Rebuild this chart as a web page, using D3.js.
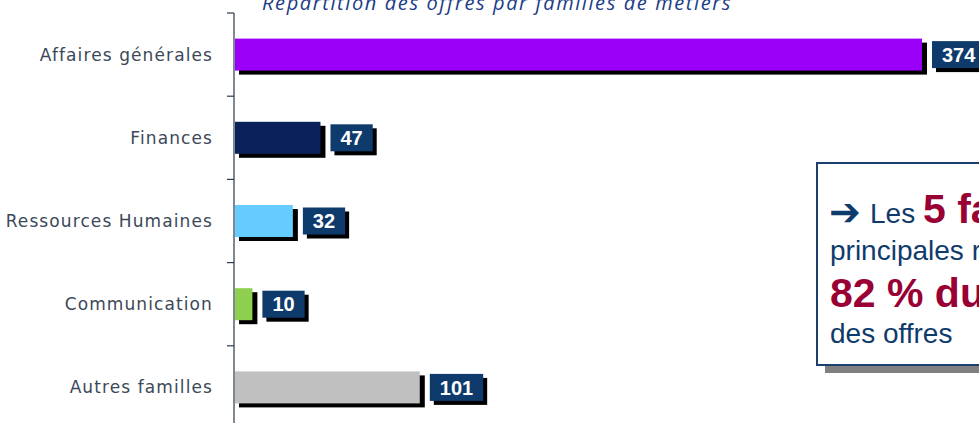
<!DOCTYPE html>
<html>
<head>
<meta charset="utf-8">
<script src="https://d3js.org/d3.v7.min.js"></script>
<style>
    body { margin: 0; background: #ffffff; overflow: hidden; }
    .cat { font-family: "DejaVu Sans", Verdana, sans-serif; font-size: 17px; letter-spacing: 1.1px; fill: #3b4858; }
    .val { font-family: "Liberation Sans", Arial, sans-serif; font-size: 20px; font-weight: bold; fill: #ffffff; }
    .title { font-family: "Open Sans", sans-serif; font-style: italic; font-size: 20px; fill: #1c3c86; }
</style>
</head>
<body>
<svg id="vis"></svg>
<script>
    var width = 979, height = 423;

    // data
    var categories = ["Affaires générales", "Finances", "Ressources Humaines", "Communication", "Autres familles"];
    var values = [374, 47, 32, 10, 101];
    var colors = ["#9a00f8", "#0b215a", "#66ccff", "#8fcf4f", "#c0c0c0"];
    var titleText = "Répartition des offres par familles de métiers";

    var svg = d3.select("#vis").attr("width", width).attr("height", height);

    var x = d3.scaleLinear().domain([0, 374]).range([234, 922]);
    var y = d3.scaleBand().domain(categories).range([13, 429]);
    var barH = 32;

    // title (cut at the top of the picture)
    svg.append("text")
        .attr("class", "title")
        .attr("x", 497)
        .attr("y", 10)
        .attr("text-anchor", "middle")
        .style("letter-spacing", "1.6px")
        .text(titleText);

    // axis line and ticks between categories
    svg.append("line")
        .attr("x1", 234).attr("x2", 234)
        .attr("y1", 13).attr("y2", height)
        .attr("stroke", "#2b3a4a").attr("stroke-width", 1.2);
    svg.selectAll(".tick")
        .data(categories)
        .enter().append("line")
        .attr("class", "tick")
        .attr("x1", 227).attr("x2", 234)
        .attr("y1", d => y(d)).attr("y2", d => y(d))
        .attr("stroke", "#2b3a4a").attr("stroke-width", 1.2);

    var rows = svg.selectAll(".row")
        .data(categories)
        .enter().append("g")
        .attr("class", "row");

    // bar shadow
    rows.append("rect")
        .attr("x", x(0) + 5)
        .attr("y", d => y(d) + (y.bandwidth() - barH) / 2 + 4)
        .attr("width", (d, i) => x(values[i]) - x(0))
        .attr("height", barH)
        .attr("fill", "#000");

    // bar
    rows.append("rect")
        .attr("x", x(0) + 1)
        .attr("y", d => y(d) + (y.bandwidth() - barH) / 2)
        .attr("width", (d, i) => x(values[i]) - x(0) - 1)
        .attr("height", barH)
        .attr("fill", (d, i) => colors[i]);

    // category labels
    rows.append("text")
        .attr("class", "cat")
        .attr("x", 213)
        .attr("y", d => y(d) + y.bandwidth() / 2)
        .attr("dy", "0.35em")
        .attr("text-anchor", "end")
        .text(d => d);

    // value boxes
    rows.each(function (d, i) {
        var g = d3.select(this);
        var cy = y(d) + y.bandwidth() / 2;
        var t = g.append("text")
            .attr("class", "val")
            .attr("y", cy)
            .attr("dy", "0.36em")
            .text(values[i]);
        var tw = t.node().getComputedTextLength();
        var bx = x(values[i]) + 10, bw = tw + 20, bh = 27;
        g.insert("rect", "text.val")
            .attr("x", bx + 4).attr("y", cy - bh / 2 + 4)
            .attr("width", bw).attr("height", bh)
            .attr("fill", "#000");
        g.insert("rect", "text.val")
            .attr("x", bx).attr("y", cy - bh / 2)
            .attr("width", bw).attr("height", bh)
            .attr("fill", "#0f3b6c");
        t.attr("x", bx + bw / 2).attr("text-anchor", "middle");
    });

    // callout box
    var box = svg.append("g");
    box.append("rect")
        .attr("x", 825).attr("y", 171)
        .attr("width", 400).attr("height", 202)
        .attr("fill", "#808080");
    box.append("rect")
        .attr("x", 817).attr("y", 163)
        .attr("width", 400).attr("height", 202)
        .attr("fill", "#fff")
        .attr("stroke", "#1d3f6e").attr("stroke-width", 2);

    var navy = "#0f3b6c", crimson = "#990033";
    box.append("text")
        .attr("x", 829).attr("y", 225)
        .attr("fill", navy)
        .style("font-family", "DejaVu Sans, sans-serif")
        .style("font-weight", "bold")
        .style("font-size", "38px")
        .text("➔");
    var l1 = box.append("text")
        .attr("x", 870).attr("y", 223)
        .style("font-family", "Liberation Sans, Arial, sans-serif");
    l1.append("tspan").attr("fill", navy).style("font-size", "28px").text("Les ");
    l1.append("tspan").attr("fill", crimson).style("font-size", "41px").style("font-weight", "bold").text("5 familles");

    box.append("text")
        .attr("x", 830).attr("y", 260)
        .attr("fill", navy)
        .style("font-family", "Liberation Sans, Arial, sans-serif")
        .style("font-size", "28px")
        .text("principales représentent");
    box.append("text")
        .attr("x", 830).attr("y", 307)
        .attr("fill", crimson)
        .style("font-family", "Liberation Sans, Arial, sans-serif")
        .style("font-size", "41px")
        .style("font-weight", "bold")
        .text("82 % du total");
    box.append("text")
        .attr("x", 830).attr("y", 343)
        .attr("fill", navy)
        .style("font-family", "Liberation Sans, Arial, sans-serif")
        .style("font-size", "28px")
        .text("des offres");
</script>
</body>
</html>
